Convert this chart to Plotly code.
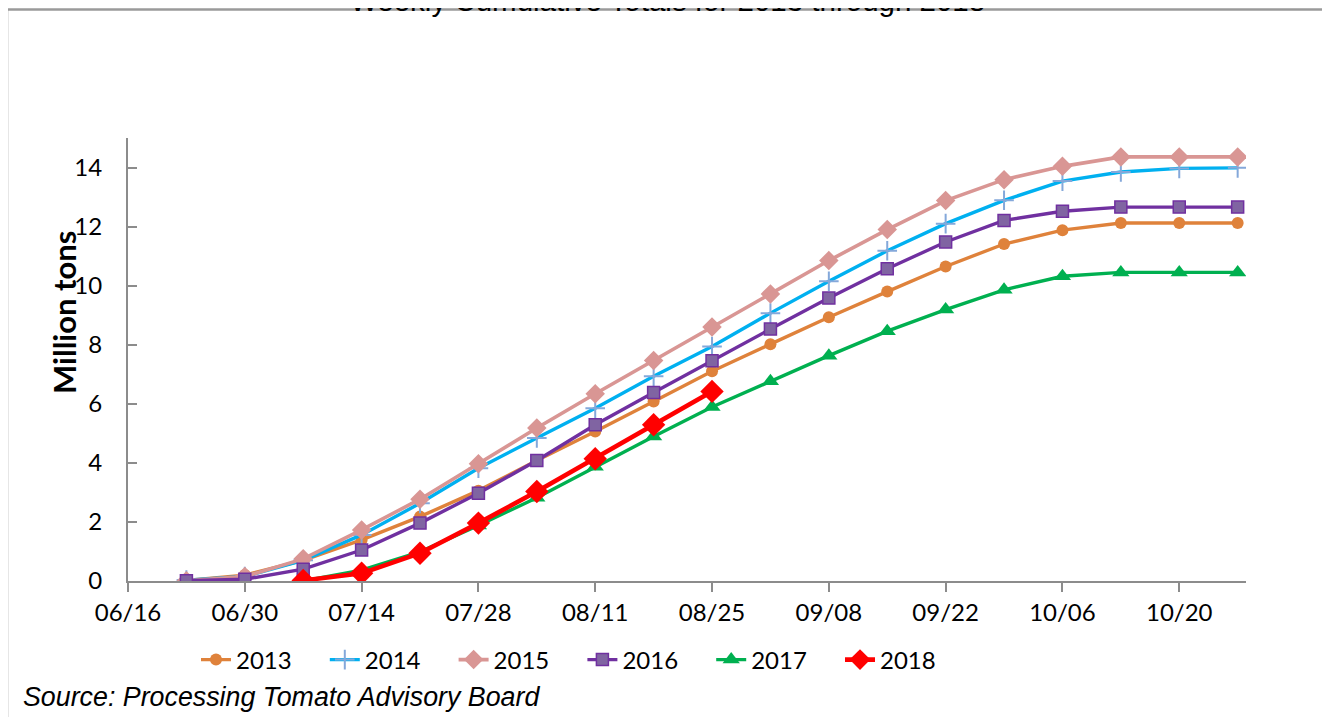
import plotly.graph_objects as go

# ---------------- data ----------------
dates = ["2018-06-23", "2018-06-30", "2018-07-07", "2018-07-14", "2018-07-21",
         "2018-07-28", "2018-08-04", "2018-08-11", "2018-08-18", "2018-08-25",
         "2018-09-01", "2018-09-08", "2018-09-15", "2018-09-22", "2018-09-29",
         "2018-10-06", "2018-10-13", "2018-10-20", "2018-10-27"]

y2013 = [0.02, 0.20, 0.70, 1.39, 2.18, 3.06, 4.08, 5.06, 6.08, 7.10, 8.02, 8.93,
         9.80, 10.65, 11.41, 11.88, 12.12, 12.12, 12.12]
y2014 = [0.03, 0.15, 0.70, 1.56, 2.63, 3.82, 4.84, 5.85, 6.93, 7.94, 9.07, 10.15,
         11.18, 12.10, 12.89, 13.54, 13.85, 13.97, 13.99]
y2015 = [0.01, 0.15, 0.75, 1.73, 2.77, 3.97, 5.18, 6.34, 7.47, 8.60, 9.72, 10.85,
         11.90, 12.88, 13.59, 14.04, 14.36, 14.36, 14.36]
y2016 = [0.01, 0.06, 0.40, 1.05, 1.96, 2.97, 4.08, 5.29, 6.38, 7.46, 8.53, 9.58,
         10.57, 11.48, 12.21, 12.52, 12.66, 12.66, 12.66]
dates_late = dates[2:]
y2017 = [0.00, 0.37, 0.99, 1.88, 2.82, 3.87, 4.89, 5.89, 6.76, 7.63, 8.46, 9.19,
         9.86, 10.32, 10.45, 10.45, 10.45]
y2018 = [0.02, 0.26, 0.94, 1.96, 3.03, 4.14, 5.29, 6.42]

x_tick_start = "2018-06-16"
x_range = ["2018-06-16", "2018-10-28"]
y_ticks = [0, 2, 4, 6, 8, 10, 12, 14]

title_text = "Weekly Cumulative Totals for 2013 through 2018"
y_title = "Million tons"
source_text = "Source: Processing Tomato Advisory Board"

# ---------------- figure ----------------
TICK_FONT = dict(family="Lato, Calibri, sans-serif", size=24, color="#000000")

fig = go.Figure()

fig.add_trace(go.Scatter(
    x=dates, y=y2013, name="2013", mode="lines+markers",
    line=dict(color="#DF823B", width=3.4),
    marker=dict(symbol="circle", size=12, color="#DF823B")))
fig.add_trace(go.Scatter(
    x=dates, y=y2014, name="2014", mode="lines+markers",
    line=dict(color="#00B0F0", width=3.4),
    marker=dict(symbol="cross-thin", size=14, color="#84A8DA",
                line=dict(color="#84A8DA", width=2))))
fig.add_trace(go.Scatter(
    x=dates, y=y2015, name="2015", mode="lines+markers",
    line=dict(color="#D99694", width=3.6),
    marker=dict(symbol="diamond", size=15, color="#D99694")))
fig.add_trace(go.Scatter(
    x=dates, y=y2016, name="2016", mode="lines+markers",
    line=dict(color="#7030A0", width=3.4),
    marker=dict(symbol="square", size=12, color="#8064A2",
                line=dict(color="#7030A0", width=1.5))))
fig.add_trace(go.Scatter(
    x=dates_late, y=y2017, name="2017", mode="lines+markers",
    line=dict(color="#00B050", width=3.4),
    marker=dict(symbol="triangle-up", size=15, color="#00B050")))
fig.add_trace(go.Scatter(
    x=dates_late, y=y2018, name="2018", mode="lines+markers",
    line=dict(color="#FF0000", width=4.6),
    marker=dict(symbol="diamond", size=18, color="#FF0000")))

# the page body adds an 8px margin, so the figure is drawn 8px in from the corner
OFF = 8
W, H = 1330 - OFF, 717 - OFF
L, T = 128 - OFF, 138 - OFF
pw, ph = 1118, 443
R, B = W - L - pw, H - T - ph


def px_x(px):
    return (px - OFF - L) / pw


def px_y(py):
    return (T + ph - (py - OFF)) / ph


fig.update_layout(
    width=W, height=H,
    margin=dict(l=L, r=R, t=T, b=B, pad=0),
    paper_bgcolor="white", plot_bgcolor="white",
    showlegend=True,
    legend=dict(orientation="h", x=px_x(196), y=px_y(660),
                xanchor="left", yanchor="middle",
                font=TICK_FONT, entrywidth=83.8, entrywidthmode="pixels",
                bgcolor="rgba(0,0,0,0)", traceorder="normal"),
    xaxis=dict(type="date", range=x_range, tick0=x_tick_start,
               dtick=14 * 86400000, tickformat="%m/%d",
               showline=True, linecolor="#8C8C8C", linewidth=2,
               ticks="outside", ticklen=9, tickwidth=2, tickcolor="#8C8C8C",
               showgrid=False, zeroline=False, tickfont=TICK_FONT,
               ticklabelstandoff=0),
    yaxis=dict(range=[0, 15], tickvals=y_ticks,
               showline=True, linecolor="#8C8C8C", linewidth=2,
               ticks="inside", ticklen=9, tickwidth=2, tickcolor="#8C8C8C",
               showgrid=False, zeroline=False, tickfont=TICK_FONT,
               ticklabelstandoff=19),
    font=dict(family="Lato, Calibri, sans-serif"),
)

# outer chart border (runs past the right and bottom edges, as in the reference)
fig.add_shape(type="rect", xref="paper", yref="paper",
              x0=px_x(7), x1=px_x(1345), y0=px_y(735), y1=px_y(9.5),
              line=dict(color="#9A9A9A", width=2.5), fillcolor="rgba(0,0,0,0)",
              layer="below")

# title (mostly cut off at the top, as in the reference)
fig.add_annotation(text=title_text, xref="paper", yref="paper",
                   x=px_x(667), y=px_y(19), xanchor="center", yanchor="bottom",
                   showarrow=False,
                   font=dict(family="Liberation Sans, Arial, sans-serif",
                             size=29.5, color="#000000"))

# y-axis title
fig.add_annotation(text="<b>" + y_title + "</b>", xref="paper", yref="paper",
                   x=px_x(64), y=px_y(313), xanchor="center", yanchor="middle",
                   textangle=-90, showarrow=False,
                   font=dict(family="Lato, Calibri, sans-serif", size=31,
                             color="#000000"))

# source note
fig.add_annotation(text="<i>" + source_text + "</i>", xref="paper", yref="paper",
                   x=px_x(21), y=px_y(697), xanchor="left", yanchor="middle",
                   showarrow=False,
                   font=dict(family="Liberation Sans, Arial, sans-serif",
                             size=26.8, color="#000000"))

fig.write_html("out.html")
